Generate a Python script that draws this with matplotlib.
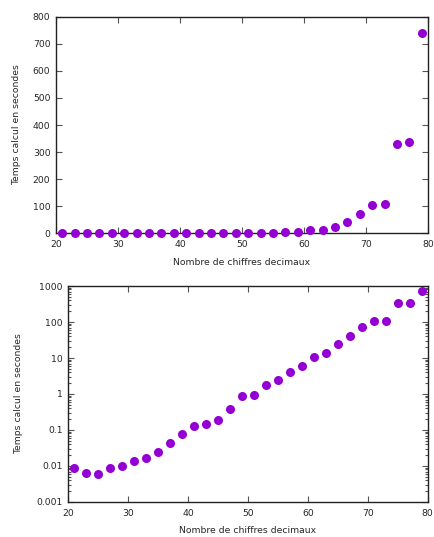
import matplotlib
matplotlib.use("Agg")
import matplotlib.pyplot as plt
from matplotlib.ticker import FixedLocator, FixedFormatter, LogLocator, NullFormatter, MultipleLocator

digits = [21, 23, 25, 27, 29, 31, 33, 35, 37, 39, 41, 43, 45, 47, 49,
          51, 53, 55, 57, 59, 61, 63, 65, 67, 69, 71, 73, 75, 77, 79]
seconds = [0.0088, 0.0063, 0.0060, 0.0088, 0.010, 0.014, 0.0167, 0.024, 0.044, 0.076,
           0.13, 0.148, 0.195, 0.38, 0.89, 0.93, 1.76, 2.42, 4.04, 5.94,
           10.6, 13.6, 24.8, 40.6, 70.8, 104, 108, 330, 337, 741]

xlabel = "Nombre de chiffres decimaux"
ylabel = "Temps calcul en secondes"
log_ticks = [0.001, 0.01, 0.1, 1, 10, 100, 1000]
log_labels = ["0.001", "0.01", "0.1", "1", "10", "100", "1000"]

color = "#9400D3"
fs = 6.7
tc = "#262626"

fig = plt.figure(figsize=(4.35, 5.37), dpi=100)
ax1 = fig.add_axes([0.1287, 0.5655, 0.855, 0.4034])
ax2 = fig.add_axes([0.157, 0.0652, 0.826, 0.4022])

for ax in (ax1, ax2):
    ax.plot(digits, seconds, "o", color=color, markersize=6.5, markeredgewidth=0, clip_on=False, zorder=3)
    ax.set_xlim(20, 80)
    ax.xaxis.set_major_locator(MultipleLocator(10))
    ax.tick_params(which="both", direction="in", top=True, right=True, labelsize=fs,
                   labelcolor=tc, color="#555555", width=0.8)
    ax.tick_params(axis="x", pad=5)
    ax.tick_params(axis="y", pad=4)
    ax.tick_params(which="major", length=4)
    ax.tick_params(which="minor", length=2)
    for s in ax.spines.values():
        s.set_linewidth(1.0)
        s.set_color("#222222")
    ax.set_xlabel(xlabel, fontsize=fs, color=tc, labelpad=6)
    ax.set_ylabel(ylabel, fontsize=fs, color=tc)

ax1.yaxis.set_label_coords(-0.095, 0.5)
ax2.yaxis.set_label_coords(-0.125, 0.5)

ax1.set_ylim(0, 800)
ax1.yaxis.set_major_locator(MultipleLocator(100))

ax2.set_yscale("log")
ax2.set_ylim(0.001, 1000)
ax2.yaxis.set_major_locator(FixedLocator(log_ticks))
ax2.yaxis.set_major_formatter(FixedFormatter(log_labels))
ax2.yaxis.set_minor_locator(LogLocator(base=10, subs=range(2, 10), numticks=20))
ax2.yaxis.set_minor_formatter(NullFormatter())

fig.savefig("out.png", dpi=100)
